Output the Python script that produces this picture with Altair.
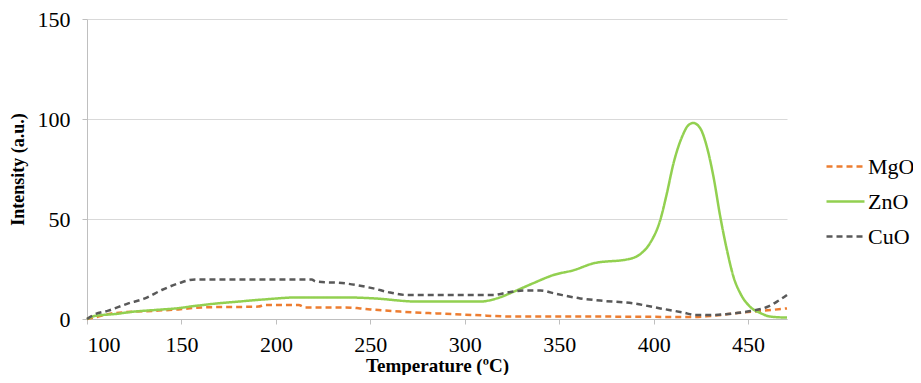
import altair as alt
import pandas as pd

series_order = ["MgO", "ZnO", "CuO"]
series_colors = ["#ED7D31", "#92D050", "#595959"]

mgo_x = [100, 105, 113, 137.8, 148.4, 160.8, 190.7, 194.3, 212, 215.5, 236.7, 244.6, 250,
         265.8, 285.2, 304.6, 325.8, 371.7, 422, 430, 447.6, 456.5, 470.6]
mgo_y = [0, 1, 2.8, 4.2, 4.8, 5.8, 6.2, 7, 7, 5.8, 5.8, 5.3, 4.8,
         3.7, 2.8, 2, 1.2, 1.2, 1, 1.5, 3.3, 4, 5.3]

zno_x = [100, 104, 115, 125, 136, 147, 157, 169, 180, 194, 212, 237, 252, 275, 308, 317,
         326, 336, 347, 358, 368, 387, 393, 398, 403.5, 407, 410.5, 415, 418.5, 421,
         424.7, 428.2, 431.7, 435.3, 438.8, 442.3, 445.9, 451.2, 456.5, 461.8, 470.6]
zno_y = [0, 1.5, 2.5, 3.7, 4.5, 5.3, 6.5, 7.8, 8.7, 9.8, 10.8, 10.8, 10.3, 8.7, 8.7, 10.3,
         13.7, 17.8, 22, 24.5, 27.8, 30, 32.5, 37.8, 49.5, 62.8, 77.8, 91, 97, 98,
         95.3, 86, 71, 51, 34.5, 21, 12.8, 6, 3, 1.2, 0.7]

cuo_x = [100, 103.4, 111.3, 121.9, 130.7, 139.6, 148.4, 157.2, 219, 221, 236.7, 251.6,
         260.5, 269.3, 315.2, 322.3, 331.1, 340, 348.8, 361.1, 371.7, 389.3, 403.5,
         415.8, 422, 430, 442.3, 451.2, 460, 465.3, 470.6]
cuo_y = [0, 2, 4.2, 7.8, 10.3, 14.5, 17.8, 19.8, 19.8, 18.8, 17.8, 15.3,
         13.2, 12, 12, 13.2, 14.2, 14.2, 12.5, 10.3, 9.2, 7.8, 5.3,
         3.2, 2, 2, 2.8, 4, 6, 8.7, 12]

x_ticks = [100, 150, 200, 250, 300, 350, 400, 450]
y_ticks = [0, 50, 100, 150]

rows = []
for name, xs, ys in [("MgO", mgo_x, mgo_y), ("ZnO", zno_x, zno_y), ("CuO", cuo_x, cuo_y)]:
    for i, (a, b) in enumerate(zip(xs, ys)):
        rows.append({"series": name, "T": a, "I": b, "i": i})
df = pd.DataFrame(rows)

FONT = "Times New Roman, Liberation Serif, serif"

chart = alt.Chart(df).mark_line(strokeWidth=2.5, interpolate="monotone").encode(
    x=alt.X("T:Q", scale=alt.Scale(domain=[100, 470.6], nice=False, zero=False),
            axis=alt.Axis(values=x_ticks, title="Temperature (\u00baC)", grid=False,
                          tickSize=5, labelPadding=10,
                          titleBaseline="alphabetic", titleY=52,
                          labelFont=FONT, titleFont=FONT,
                          labelFontSize=22, titleFontSize=19)),
    y=alt.Y("I:Q", scale=alt.Scale(domain=[0, 150], nice=False),
            axis=alt.Axis(values=y_ticks, title="Intensity (a.u.)", grid=True,
                          tickSize=5, labelPadding=12, titlePadding=10,
                          labelFont=FONT, titleFont=FONT,
                          labelFontSize=22, titleFontSize=18)),
    color=alt.Color("series:N", scale=alt.Scale(domain=series_order, range=series_colors),
                    title=None,
                    legend=alt.Legend(orient="none", legendX=738, legendY=127,
                                      symbolType="stroke", symbolSize=1444,
                                      symbolStrokeWidth=2.5, labelFontSize=22,
                                      labelFont=FONT, rowPadding=3, labelOffset=2)),
    strokeDash=alt.StrokeDash("series:N",
                              scale=alt.Scale(domain=series_order,
                                              range=[[6, 4], [1, 0], [6, 4]]),
                              title=None, legend=None),
    order="i:Q",
).properties(
    width=700, height=300,
    autosize=alt.AutoSizeParams(type="none"),
    padding={"left": 79, "top": 11, "right": 126, "bottom": 56},
).configure(font=FONT).configure_axis(
    labelFont=FONT, titleFont=FONT, labelColor="#000000", titleColor="#000000",
    titleFontWeight="bold", domainColor="#bfbfbf", tickColor="#bfbfbf",
    gridColor="#d9d9d9", gridWidth=1, domainWidth=1,
).configure_view(stroke=None).configure_legend(labelColor="#000000")

chart.save("out.html", embed_options={"renderer": "svg", "actions": False})
